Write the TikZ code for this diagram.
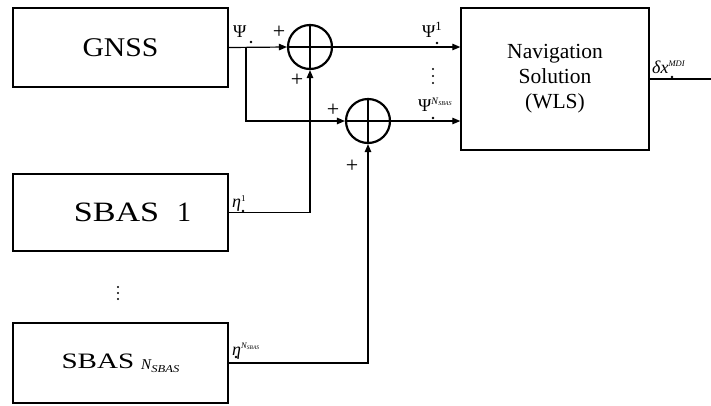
\documentclass[tikz,border=0pt]{standalone}
\usepackage{fontspec}
\setmainfont{Liberation Serif}
\usetikzlibrary{arrows.meta}
\newcommand{\nsb}[2]{\textit{N}\kern-0.3pt\raisebox{-1.6pt}{\fontsize{#2}{#2}\selectfont\textit{SBAS}}}
\begin{document}
\begin{tikzpicture}[x=1pt,y=-1pt,
  blk/.style={draw,line width=1.4pt,inner sep=0pt},
  sumc/.style={draw,circle,line width=2.2pt,minimum size=44pt,inner sep=0pt},
  conn/.style={line width=1.2pt},
  arr/.style={conn,-{Triangle[length=8pt,width=6.5pt]}},
  lbl/.style={font=\fontsize{18}{18}\selectfont,inner sep=0pt,anchor=base west},
  pl/.style={font=\fontsize{22}{22}\selectfont,inner sep=0pt},
  dotm/.style={fill=black}]
\useasboundingbox (0,0) rectangle (711,405);
\node[blk,minimum width=215pt,minimum height=79pt] (gnss) at (120.5,47.5)
  {\fontsize{27}{27}\selectfont\scalebox{1.1}[1]{GNSS}};
\node[blk,minimum width=215pt,minimum height=77pt] (sbas1) at (120.5,212.5)
  {\hspace*{24pt}\fontsize{28}{28}\selectfont\scalebox{1.22}[1]{SBAS}\hspace{18pt}1};
\node[blk,minimum width=215pt,minimum height=80pt] (sbasN) at (120.5,363)
  {\fontsize{22}{22}\selectfont\scalebox{1.32}[1]{SBAS}\hspace{7pt}\raisebox{-1pt}{\fontsize{15}{15}\selectfont\textit{N}\kern-0.5pt\raisebox{-3pt}{\fontsize{10.5}{10.5}\selectfont\scalebox{1.2}[1]{\textit{SBAS}}}}};
\node[blk,minimum width=188pt,minimum height=142pt,align=center,font=\fontsize{21.5}{25}\selectfont] (nav) at (555,79)
  {Navigation\\Solution\\(WLS)};
\node[sumc] (s1) at (310,47) {};
\node[sumc] (s2) at (368,121) {};
\draw[line width=2.2pt] (s1.north) -- (s1.south) (s1.west) -- (s1.east);
\draw[line width=2.2pt] (s2.north) -- (s2.south) (s2.west) -- (s2.east);
\coordinate (b) at (246,47);
\coordinate (out) at (711,79);
\draw[arr] (gnss.east) -- (s1.west);
\draw[arr] (b) |- (s2.west);
\draw[arr] (s1.east) -- (nav.west |- s1.east);
\draw[arr] (s2.east) -- (nav.west |- s2.east);
\draw[arr] (sbas1.east) -| (s1.south);
\draw[arr] (sbasN.east) -| (s2.south);
\draw[conn] (nav.east) -- (out);
% labels
\node[lbl] (lpsi) at (233,37) {Ψ};
\node[lbl] (lpsi1) at (422,37) {Ψ\textsuperscript{1}};
\node[lbl] (lpsiN) at (418,111) {Ψ\raisebox{7pt}{\fontsize{10}{10}\selectfont\nsb{10}{6}}};
\node[lbl] (leta1) at (232,207) {\textit{η}\raisebox{6pt}{\fontsize{9}{9}\selectfont 1}};
\node[lbl] (letaN) at (232,355) {\textit{η}\raisebox{7pt}{\fontsize{8.5}{8.5}\selectfont\nsb{8.5}{5.5}}};
\node[lbl] (ldx) at (652,73) {\textit{δx}\raisebox{7pt}{\fontsize{8.5}{8.5}\selectfont\textit{MDI}}};
\fill[dotm] (251,42) circle (1.4) (437,43) circle (1.4) (433,118) circle (1.4)
  (243,211) circle (1.4) (236,357) circle (1.4) (672,77) circle (1.4);
\fill[dotm] (433,69) circle (1.1) (433,76) circle (1.1) (433,83) circle (1.1);
\fill[dotm] (118,287) circle (1.1) (118,293) circle (1.1) (118,299) circle (1.1);
\node[pl] (p1) at (279,32) {+};
\node[pl] (p2) at (297,80) {+};
\node[pl] (p3) at (333,110) {+};
\node[pl] (p4) at (352,166) {+};
\end{tikzpicture}
\end{document}
